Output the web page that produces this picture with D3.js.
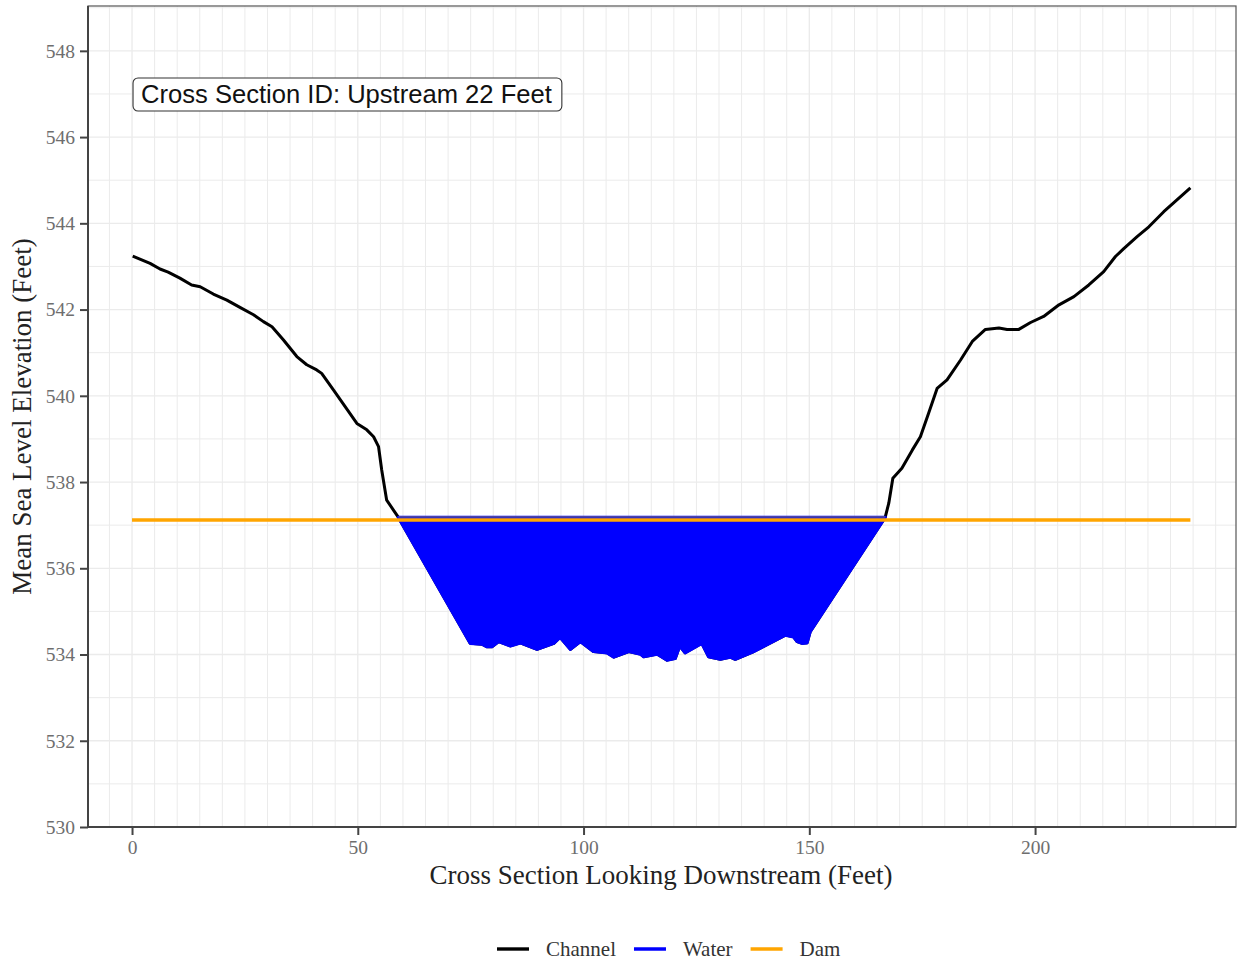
<!DOCTYPE html>
<html>
<head>
<meta charset="utf-8">
<script src="https://cdn.jsdelivr.net/npm/d3@7"></script>
<style>
  html, body { margin: 0; padding: 0; background: #fff; }
  svg { display: block; }
</style>
</head>
<body>
<svg id="chart" width="1238" height="961"></svg>
<script>
// ---------- DATA ----------
const channelX = [0.15, 4.0, 6.2, 8.0, 10.6, 13.2, 15.1, 18.0, 21.0, 23.9, 26.9, 29.1, 31.0, 33.5, 36.5, 38.7, 40.9, 42.0, 44.6, 47.2, 49.8, 52.0, 53.5, 54.6, 55.3, 56.4, 57.9, 59.0,
  74.9, 77.5, 78.6, 79.7, 81.2, 83.8, 86.0, 89.7, 93.4, 94.8, 97.1, 99.3, 102.2, 105.2, 106.7, 110.0, 112.6, 113.3, 116.3, 118.5, 120.3, 121.3, 122.5, 126.2, 127.7, 130.3, 132.5, 133.6, 137.7, 144.7, 146.5, 147.3, 148.4, 149.5, 150.2,
  166.8, 167.6, 168.5, 170.5, 172.8, 174.6, 176.4, 178.3, 180.5, 183.5, 186.1, 189.0, 192.0, 193.8, 196.4, 199.0, 201.9, 205.3, 208.6, 211.9, 215.2, 217.8, 219.7, 222.6, 225.2, 228.5, 234.4];
const channelY = [543.24, 543.07, 542.94, 542.87, 542.73, 542.57, 542.53, 542.36, 542.22, 542.05, 541.88, 541.72, 541.60, 541.30, 540.91, 540.72, 540.60, 540.52, 540.14, 539.75, 539.36, 539.21, 539.05, 538.82, 538.28, 537.58, 537.35, 537.18,
  534.26, 534.24, 534.18, 534.18, 534.30, 534.20, 534.27, 534.12, 534.26, 534.40, 534.12, 534.30, 534.07, 534.04, 533.94, 534.07, 534.01, 533.95, 534.01, 533.87, 533.91, 534.20, 534.04, 534.26, 533.95, 533.89, 533.94, 533.89, 534.07, 534.45, 534.41, 534.30, 534.26, 534.27, 534.53,
  537.18, 537.51, 538.09, 538.32, 538.74, 539.05, 539.59, 540.17, 540.37, 540.83, 541.26, 541.54, 541.57, 541.54, 541.54, 541.70, 541.84, 542.11, 542.30, 542.57, 542.88, 543.23, 543.42, 543.69, 543.92, 544.27, 544.82];
const waterLevel = 537.18;
const damLevel = 537.12;
const damStart = 0;
const damEnd = 234.4;
const xTicks = [0, 50, 100, 150, 200];
const yTicks = [530, 532, 534, 536, 538, 540, 542, 544, 546, 548];
const labelText = "Cross Section ID: Upstream 22 Feet";
const labelX = 0, labelY = 547;
const legendNames = ["Channel", "Water", "Dam"];
const legendColors = ["#000000", "#0000ff", "#ffa500"];
const xTitle = "Cross Section Looking Downstream (Feet)";
const yTitle = "Mean Sea Level Elevation (Feet)";

// ---------- LAYOUT ----------
const svg = d3.select("#chart");
const P = {left: 88, right: 1236, top: 6, bottom: 827};
const x = d3.scaleLinear().domain([-9.75, 244.5]).range([P.left, P.right]);
const y = d3.scaleLinear().domain([530, 549.04]).range([P.bottom, P.top]);
const serif = "'Liberation Serif', 'Times New Roman', serif";
const sans = "'Liberation Sans', Arial, sans-serif";

// grid
const gx = d3.range(-5, 245, 5);
const gy = d3.range(530, 550, 1);
const grid = svg.append("g");
grid.selectAll("line.vx").data(gx).join("line")
  .attr("x1", d => x(d)).attr("x2", d => x(d))
  .attr("y1", P.top).attr("y2", P.bottom)
  .attr("stroke", "#ebebeb").attr("stroke-width", d => d % 50 === 0 ? 1.3 : 1);
grid.selectAll("line.hy").data(gy).join("line")
  .attr("y1", d => y(d)).attr("y2", d => y(d))
  .attr("x1", P.left).attr("x2", P.right)
  .attr("stroke", "#ebebeb").attr("stroke-width", d => d % 2 === 0 ? 1.3 : 1);

// data
const pts = channelX.map((v, i) => ({x: v, y: channelY[i]}));
const lineGen = d3.line().x(d => x(d.x)).y(d => y(d.y));
svg.append("path").datum(pts)
  .attr("d", lineGen).attr("fill", "none")
  .attr("stroke", "#000").attr("stroke-width", 3).attr("stroke-linejoin", "round");

const wpts = pts.filter(d => d.y <= waterLevel);
const areaGen = d3.area().x(d => x(d.x)).y0(y(waterLevel)).y1(d => y(d.y));
svg.append("path").datum(wpts)
  .attr("d", areaGen).attr("fill", "#0000ff")
  .attr("stroke", "#0000ff").attr("stroke-width", 3.2).attr("stroke-linejoin", "round");
svg.append("line")
  .attr("x1", x(wpts[0].x)).attr("x2", x(wpts[wpts.length - 1].x))
  .attr("y1", y(waterLevel) - 0.5).attr("y2", y(waterLevel) - 0.5)
  .attr("stroke", "#4a44a6").attr("stroke-width", 1.6);

svg.append("line")
  .attr("x1", x(damStart)).attr("x2", x(damEnd))
  .attr("y1", y(damLevel)).attr("y2", y(damLevel))
  .attr("stroke", "#ffa500").attr("stroke-width", 3.4);

// panel border & axes
svg.append("rect").attr("x", P.left).attr("y", P.top)
  .attr("width", P.right - P.left).attr("height", P.bottom - P.top)
  .attr("fill", "none").attr("stroke", "#555").attr("stroke-width", 1.2);
svg.append("line").attr("x1", P.left).attr("x2", P.left).attr("y1", P.top).attr("y2", P.bottom + 1)
  .attr("stroke", "#444").attr("stroke-width", 2);
svg.append("line").attr("x1", P.left - 1).attr("x2", P.right).attr("y1", P.bottom).attr("y2", P.bottom)
  .attr("stroke", "#444").attr("stroke-width", 2);

const xAxis = svg.append("g").attr("transform", `translate(0,${P.bottom})`)
  .call(d3.axisBottom(x).tickValues(xTicks).tickSize(8).tickPadding(5).tickFormat(d3.format("d")));
const yAxis = svg.append("g").attr("transform", `translate(${P.left},0)`)
  .call(d3.axisLeft(y).tickValues(yTicks).tickSize(8).tickPadding(5).tickFormat(d3.format("d")));
[xAxis, yAxis].forEach(a => {
  a.select(".domain").remove();
  a.selectAll(".tick line").attr("stroke", "#444").attr("stroke-width", 2);
  a.selectAll(".tick text").attr("fill", "#6e6e6e").style("font-family", serif).style("font-size", "19.5px");
});

// titles: fit font size to target width
function fitSize(text, family, target) {
  const t = svg.append("text").style("font-family", family).style("font-size", "100px").text(text);
  const w = t.node().getComputedTextLength();
  t.remove();
  return 100 * target / w;
}
const titleSize = fitSize(xTitle, serif, 463);
svg.append("text").attr("x", 661).attr("y", 884)
  .attr("text-anchor", "middle").style("font-family", serif).style("font-size", titleSize + "px")
  .attr("fill", "#222").text(xTitle);
svg.append("text").attr("transform", `translate(31,${(P.top + P.bottom) / 2}) rotate(-90)`)
  .attr("text-anchor", "middle").style("font-family", serif).style("font-size", titleSize + "px")
  .attr("fill", "#222").text(yTitle);

// label box
const labSize = fitSize(labelText, sans, 411);
const lg = svg.append("g");
const lt = lg.append("text").attr("x", x(labelX) + 9).attr("y", y(labelY))
  .attr("dominant-baseline", "central")
  .style("font-family", sans).style("font-size", labSize + "px").attr("fill", "#111").text(labelText);
const bb = lt.node().getBBox();
lg.insert("rect", "text").attr("x", x(labelX) + 1).attr("y", 78)
  .attr("width", bb.width + 18).attr("height", 33).attr("rx", 5).attr("ry", 5)
  .attr("fill", "#fff").attr("stroke", "#333").attr("stroke-width", 1.1);

// legend
const leg = svg.append("g");
let cx = 0;
legendNames.forEach((n, i) => {
  const g = leg.append("g");
  g.append("line").attr("x1", 0).attr("x2", 32).attr("y1", 0).attr("y2", 0)
    .attr("stroke", legendColors[i]).attr("stroke-width", 3.4);
  const t = g.append("text").attr("x", 49).attr("y", 0).attr("dominant-baseline", "central")
    .style("font-family", serif).style("font-size", "21px").attr("fill", "#333").text(n);
  const w = t.node().getComputedTextLength();
  g.attr("transform", `translate(${cx},0)`);
  cx += 49 + w + 18;
});
leg.attr("transform", `translate(${497},949)`);
</script>
</body>
</html>
